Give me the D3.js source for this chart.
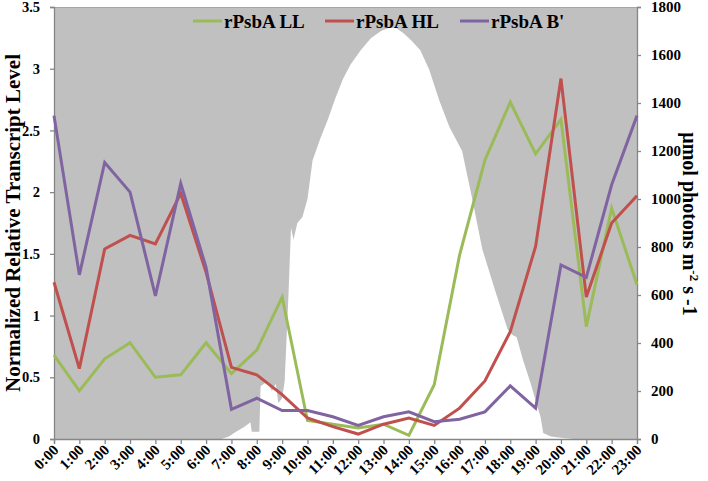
<!DOCTYPE html>
<html><head><meta charset="utf-8">
<script src="https://cdn.jsdelivr.net/npm/d3@7"></script>
<style>
html,body{margin:0;padding:0;background:#fff;}
svg{display:block;}
text{font-family:"Liberation Serif","Times New Roman",serif;font-weight:bold;fill:#000;}
</style></head>
<body>
<script>
// ---- data ----
const hours = ["0:00","1:00","2:00","3:00","4:00","5:00","6:00","7:00","8:00","9:00","10:00","11:00",
               "12:00","13:00","14:00","15:00","16:00","17:00","18:00","19:00","20:00","21:00","22:00","23:00"];
const seriesNames = ["rPsbA LL","rPsbA HL","rPsbA B'"];
const seriesColors = ["#9BBB59","#C0504D","#8064A2"];
const valuesLL = [0.68,0.39,0.65,0.78,0.50,0.52,0.78,0.53,0.72,1.15,0.15,0.12,0.09,0.12,0.03,0.44,1.49,2.26,2.73,2.31,2.59,0.91,1.87,1.25];
const valuesHL = [1.27,0.57,1.54,1.65,1.58,1.99,1.35,0.58,0.52,0.36,0.17,0.10,0.04,0.12,0.17,0.11,0.25,0.47,0.87,1.56,2.92,1.15,1.75,1.97];
const valuesB  = [2.62,1.33,2.24,2.00,1.16,2.07,1.39,0.24,0.33,0.23,0.23,0.18,0.11,0.18,0.22,0.14,0.16,0.22,0.43,0.25,1.41,1.31,2.06,2.62];
// light (µmol photons m-2 s-1): time (h) and value
const lightTime  = [0,6.6,6.9,7.1,7.5,7.75,7.8,8.1,8.15,8.4,8.6,8.75,8.85,9.0,9.1,9.25,9.35,9.45,9.6,9.8,10.0,10.2,10.5,10.8,11.1,11.4,11.7,12.1,12.5,12.9,13.2,13.5,13.8,14.1,14.45,14.8,15.2,15.6,16.1,16.5,16.9,17.4,17.9,18.1,18.25,18.5,18.8,19.0,19.2,19.3,19.6,20.0,20.5,23];
const lightValue = [0,0,10,25,50,70,30,30,220,240,200,230,150,170,240,600,880,830,900,925,1000,1160,1250,1330,1420,1500,1560,1620,1670,1700,1712,1712,1690,1660,1620,1540,1410,1300,1200,1000,790,620,455,432,425,330,233,160,90,25,10,5,0,0];
const leftTicks = [0,0.5,1,1.5,2,2.5,3,3.5];
const rightTicks = [0,200,400,600,800,1000,1200,1400,1600,1800];

const W = 708, H = 481;
const m = {l:54, r:637, t:7, b:439};
const svg = d3.select("body").append("svg").attr("width",W).attr("height",H);

const x = d3.scaleLinear().domain([0,23]).range([m.l,m.r]);
const y = d3.scaleLinear().domain([0,3.5]).range([m.b,m.t]);
const yR = d3.scaleLinear().domain([0,1800]).range([m.b,m.t]);

// gray plot background
svg.append("rect").attr("x",m.l).attr("y",m.t).attr("width",m.r-m.l).attr("height",m.b-m.t).attr("fill","#C0C0C0");
svg.append("line").attr("x1",m.l).attr("x2",m.r).attr("y1",m.t+0.5).attr("y2",m.t+0.5).attr("stroke","#A6A6A6");

// white light area
const light = lightTime.map((t,i)=>({t, v:lightValue[i]}));
svg.append("path").datum(light)
  .attr("d", d3.area().x(d=>x(d.t)).y0(yR(0)).y1(d=>yR(d.v)))
  .attr("fill","#fff");

// axes
const axisColor = "#868686";
const gL = svg.append("g").attr("transform",`translate(${m.l},0)`)
  .call(d3.axisLeft(y).tickValues(leftTicks).tickSize(4).tickPadding(10).tickFormat(d3.format("")));
const gR = svg.append("g").attr("transform",`translate(${m.r},0)`)
  .call(d3.axisRight(yR).tickValues(rightTicks).tickSize(4).tickPadding(10).tickFormat(d3.format("")));
const gB = svg.append("g").attr("transform",`translate(0,${m.b})`)
  .call(d3.axisBottom(x).tickValues(d3.range(24)).tickSize(5).tickFormat(i=>hours[i]));
[gL,gR,gB].forEach(g=>{
  g.selectAll("path.domain").attr("stroke",axisColor).attr("stroke-width",1.3);
  g.selectAll(".tick line").attr("stroke",axisColor).attr("stroke-width",1.3);
  g.selectAll("text").style("font-family",'"Liberation Serif",serif').style("font-weight","bold").style("font-size","15px").attr("fill","#000");
});
gL.selectAll("text").style("font-size","14.5px");
gB.selectAll("text").attr("text-anchor","end").attr("dy",null).attr("y",0)
  .attr("transform","translate(5,12) rotate(-45)").style("font-size","15px");

// series lines
const line = d3.line().x((d,i)=>x(i)).y(d=>y(d));
[valuesLL,valuesHL,valuesB].forEach((vals,k)=>{
  svg.append("path").datum(vals).attr("d",line).attr("fill","none")
    .attr("stroke",seriesColors[k]).attr("stroke-width",3).attr("stroke-linejoin","miter");
});

// legend
const legX = [193,325,460];
seriesNames.forEach((n,k)=>{
  svg.append("line").attr("x1",legX[k]).attr("x2",legX[k]+29).attr("y1",21).attr("y2",21)
    .attr("stroke",seriesColors[k]).attr("stroke-width",3);
  svg.append("text").attr("x",legX[k]+31).attr("y",28).style("font-size","19px").text(n);
});

// axis titles
svg.append("text").attr("transform","translate(20,223) rotate(-90)").attr("text-anchor","middle")
  .style("font-size","21px").text("Normalized Relative Transcript Level");
const rt = svg.append("text").attr("transform","translate(683,224) rotate(90)").attr("text-anchor","middle")
  .style("font-size","20px");
rt.append("tspan").text("μmol photons m");
rt.append("tspan").attr("dy",-7).style("font-size","13px").text("-2");
rt.append("tspan").attr("dy",7).text(" s -1");
</script>
</body></html>
